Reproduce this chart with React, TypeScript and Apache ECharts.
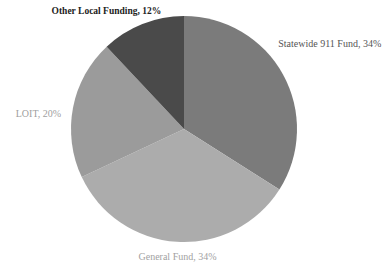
import React, { useEffect, useRef } from "react";
import * as echarts from "echarts";

const categories = ["Statewide 911 Fund", "General Fund", "LOIT", "Other Local Funding"];
const values = [34, 34, 20, 12];
const sliceColors = ["#7b7b7b", "#acacac", "#9b9b9b", "#4a4a4a"];
const labelColors = ["#555555", "#a2a2a2", "#a0a0a0", "#222222"];
const labelWeights = ["normal", "normal", "normal", "bold"];
const labelSizes = [10, 10, 10, 9.5];
const labelShift = [
  [-15, -28],
  [45, 9],
  [-1, 7],
  [26, -7],
];

export default function App() {
  const ref = useRef<HTMLDivElement>(null);
  useEffect(() => {
    document.body.style.margin = "0";
    const chart = echarts.init(ref.current!, null, { renderer: "svg" });
    chart.setOption({
      animation: false,
      backgroundColor: "#ffffff",
      series: [
        {
          type: "pie",
          center: [184, 129],
          radius: 113,
          startAngle: 90,
          clockwise: true,
          avoidLabelOverlap: false,
          label: {
            show: true,
            position: "outside",
            formatter: "{b}, {c}%",
            fontFamily: "Liberation Serif",
            fontSize: 10,
            overflow: "none",
          },
          labelLine: { show: false, length: 6, length2: 0 },
          labelLayout: (p: any) => ({
            dx: labelShift[p.dataIndex][0],
            dy: labelShift[p.dataIndex][1],
          }),
          itemStyle: { borderWidth: 0 },
          data: categories.map((name, i) => ({
            name,
            value: values[i],
            itemStyle: { color: sliceColors[i] },
            label: { color: labelColors[i], fontWeight: labelWeights[i], fontSize: labelSizes[i] },
          })),
        },
      ],
    });
    return () => chart.dispose();
  }, []);
  return <div ref={ref} style={{ width: 384, height: 265 }} />;
}
